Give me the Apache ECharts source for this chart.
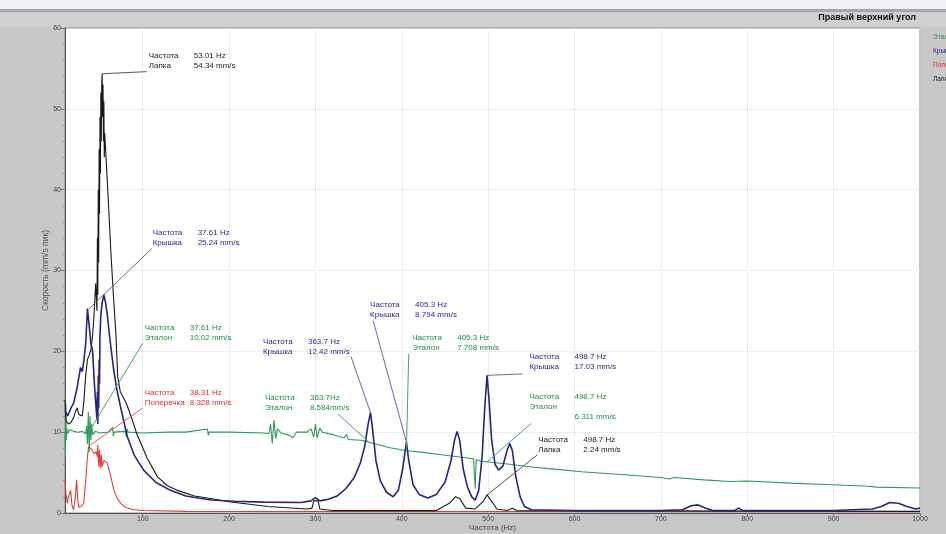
<!DOCTYPE html>
<html>
<head>
<meta charset="utf-8">
<script src="https://cdn.jsdelivr.net/npm/echarts@6/dist/echarts.min.js"></script>
<style>
  html, body { margin: 0; padding: 0; background: #c8c8c8; }
  #chart { width: 946px; height: 534px; }
</style>
</head>
<body>
<div id="chart"></div>
<script>
// Эталон (green)
const etFreq = [10, 10.5, 11, 11.5, 12, 13, 15, 20, 25, 30, 34, 35, 36, 37, 37.61, 38, 39, 40, 41, 42, 45, 50, 60, 65, 66, 67, 80, 81, 82, 83, 100, 130, 150, 175, 176, 177, 200, 240, 246, 248, 250, 252, 254, 256, 260, 270, 274, 278, 290, 295, 298, 300, 302, 305, 308, 320, 329, 333, 336, 338, 353, 368, 385, 405.3, 425, 446, 476, 483, 485, 486, 492, 520, 550, 580, 608, 650, 700, 710, 715, 750, 780, 800, 850, 898, 940, 950, 1000];
const etVal  = [10, 7, 13.5, 9, 10.5, 9.8, 10.3, 10.1, 10, 10.1, 9.8, 10.8, 8.5, 12.5, 10.02, 7.5, 12, 9, 11, 9.7, 10.1, 9.9, 10, 10.6, 9.5, 10, 10.1, 9.4, 10.4, 10, 9.9, 10, 10, 10.4, 9.6, 10, 10, 9.9, 9.8, 11, 8.6, 11.5, 9.2, 10.4, 9.9, 9.6, 9.3, 10, 10, 10.4, 9.4, 11, 9.3, 10.5, 10, 9.7, 9.4, 9.3, 9.7, 9.1, 9.0, 8.6, 8.1, 7.708, 7.5, 7.2, 6.8, 6.7, 3, 6.6, 6.4, 6.1, 5.7, 5.4, 5.1, 4.8, 4.4, 4.2, 4.4, 4.1, 3.9, 3.95, 3.7, 3.5, 3.3, 3.2, 3.1];

// Крышка (blue)
const krFreq = [10, 13, 17, 20, 24, 28, 30, 32, 34, 36, 37.61, 40, 42, 44, 46, 47, 47.5, 48, 48.5, 49, 49.5, 50, 50.5, 51.5, 53, 55, 57, 59, 62, 66, 70, 75, 82, 90, 101, 115, 132, 150, 179, 206, 240, 283, 295, 300, 305, 315, 325, 335, 345, 352, 357, 361, 363.7, 366, 370, 375, 382, 390, 396, 401, 405.3, 408, 413, 420, 430, 440, 450, 457, 461, 464, 467, 471, 476, 481, 485, 489, 493, 496, 498.7, 501, 504, 508, 512, 517, 522, 525, 528, 532, 537, 542, 550, 600, 700, 725, 735, 743, 752, 760, 785, 790, 795, 900, 945, 955, 965, 975, 985, 995, 1000];
const krVal  = [12.7, 12, 13, 13.6, 15.5, 18, 17.5, 19, 21, 25.3, 25.24, 21, 20, 16, 13, 11.5, 15, 11, 17, 13, 19, 16, 22, 24.5, 26, 27, 26, 24.5, 21.5, 18, 15.3, 12.8, 9.5, 7.2, 5.3, 3.8, 2.8, 2.1, 1.6, 1.45, 1.35, 1.3, 1.5, 1.9, 1.5, 1.7, 2.1, 3, 4.4, 6.2, 8.2, 11, 12.42, 10.5, 6.5, 4, 2.6, 2.0, 2.8, 5.5, 8.794, 6.5, 3.5, 2.3, 1.85, 2.3, 3.8, 6.5, 9, 10.1, 9, 5.5, 3.2, 2.0, 1.6, 2.8, 7, 13, 17.03, 14, 9, 6, 5.3, 5.8, 7.8, 8.6, 7.7, 4.5, 2, 0.8, 0.4, 0.3, 0.3, 0.4, 0.9, 1.0, 0.6, 0.3, 0.3, 0.6, 0.3, 0.3, 0.5, 0.8, 1.3, 1.2, 0.8, 0.5, 0.6];

// Поперечка (red)
const popFreq = [10, 11, 12.6, 14, 16.5, 18, 20, 22, 23.4, 25, 26, 29, 31.6, 34, 36, 37.4, 38.31, 40, 41.6, 44, 46, 47.4, 48, 49, 50, 51, 52, 53, 55, 59, 63, 66.7, 70, 74.5, 80, 89.6, 100, 150, 1000];
const popVal  = [4, 2.5, 1.2, 2, 2.8, 1, 0.4, 2, 4.1, 1.5, 0.7, 0.8, 1.2, 4, 7, 8.2, 8.328, 8, 7.8, 7.3, 7.6, 7.0, 8.4, 5.8, 7.8, 5.5, 7.2, 5.7, 6.5, 6.2, 4.5, 2.8, 1.9, 1.2, 0.7, 0.4, 0.3, 0.2, 0.15];

// Лапка (black)
const lapFreq = [10, 11, 14, 17, 20, 22, 24, 26, 28, 30, 32, 34, 36, 38, 40, 42, 43.5, 45.5, 47, 47.5, 48, 48.5, 49, 49.5, 50, 50.5, 51, 51.5, 52, 52.5, 53.01, 53.5, 54, 54.5, 55, 55.5, 56, 58, 60, 63, 66, 69, 71, 74, 78, 82, 88, 93, 98, 105, 117, 128, 140, 160, 175, 200, 245, 290, 296, 298, 303, 305, 320, 440, 455, 462, 467, 474, 485, 494, 498.7, 503, 510, 522, 528, 533, 1000];
const lapVal  = [14, 11.5, 11, 11.2, 11.8, 12.5, 13, 12.2, 12, 12, 14, 17, 19, 19.5, 20.2, 22, 24.3, 28.4, 25, 34, 27, 40, 31, 45, 37, 49, 42, 52, 46, 53, 54.34, 49, 53, 46, 51, 44, 47, 43, 39, 32.5, 27, 22, 16.9, 15, 14.2, 13.3, 11.5, 9.8, 8.6, 6.8, 4.5, 3.4, 2.8, 2.1, 1.85, 1.4, 0.8, 0.5, 0.6, 1.5, 1.5, 0.5, 0.3, 0.3, 1.2, 2, 1.8, 0.6, 0.5, 1.4, 2.24, 1.6, 0.5, 0.3, 0.6, 0.3, 0.2];

const seriesNames = ['Эталон', 'Крышка', 'Поперечка', 'Лапка'];
const xTicks = [100, 200, 300, 400, 500, 600, 700, 800, 900, 1000];

// cursor readouts: series, frequency text, value text
const cursorSeries = ['Лапка', 'Крышка', 'Эталон', 'Поперечка', 'Крышка', 'Эталон', 'Крышка', 'Эталон', 'Крышка', 'Эталон', 'Лапка'];
const cursorFreq   = [53.01, 37.61, 37.61, 38.31, 363.7, 363.7, 405.3, 405.3, 498.7, 498.7, 498.7];
const cursorVal    = [54.34, 25.24, 10.02, 8.328, 12.42, 8.584, 8.794, 7.708, 17.03, 6.311, 2.24];
const cursorFreqTxt = ['53.01 Hz', '37.61 Hz', '37.61 Hz', '38.31 Hz', '363.7 Hz', '363.7Hz', '405.3 Hz', '405.3 Hz', '498.7 Hz', '498.7 Hz', '498.7 Hz'];
const cursorValTxt  = ['54.34 mm/s', '25.24 mm/s', '10.02 mm/s', '8.328 mm/s', '12.42 mm/s', '8.584mm/s', '8.794 mm/s', '7.708 mm/s', '17.03 mm/s', '6.311 mm/s', '2.24 mm/s'];

// where each readout box sits (axis units): label anchor and leader end
const boxAt  = [[107, 55.9], [111.5, 34.0], [102.3, 22.3], [102.3, 14.3], [239.2, 20.6], [241.5, 13.6], [363.3, 25.1], [412, 21.0], [547.8, 18.7], [547.8, 13.2], [558, 8.4]];
const leadTo = [[104.6, 54.6], [110.4, 32.7], [100, 21.0], [100, 13.0], [341, 19.4], [326, 12.25], [366.8, 23.8], [408, 19.7], [539.7, 17.2], [550, 11.1], [557, 7.2]];

const colors = { 'Эталон': '#2f9a5a', 'Крышка': '#26267e', 'Поперечка': '#e8393a', 'Лапка': '#1a1a1a' };
const textColors = { 'Эталон': '#1f8f44', 'Крышка': '#2a2a8a', 'Поперечка': '#e42a2a', 'Лапка': '#1a1a1a' };
const leadColors = { 'Эталон': '#4aa070', 'Крышка': '#6a6aa8', 'Поперечка': '#ec5a5a', 'Лапка': '#555' };

const pairs = (fs, vs) => fs.map((f, i) => [f, vs[i]]);
const curves = {
  'Эталон': pairs(etFreq, etVal),
  'Крышка': pairs(krFreq, krVal),
  'Поперечка': pairs(popFreq, popVal),
  'Лапка': pairs(lapFreq, lapVal)
};

function readouts(name) {
  const lines = [], points = [];
  cursorSeries.forEach((s, i) => {
    if (s !== name) return;
    lines.push([{ coord: [cursorFreq[i], cursorVal[i]] }, { coord: leadTo[i] }]);
    const second = (i === 9)
      ? '{n|' + name + '}\n{n|}{v|' + cursorValTxt[i] + '}'
      : '{n|' + name + '}{v|' + cursorValTxt[i] + '}';
    points.push({
      coord: boxAt[i],
      label: {
        formatter: '{n|Частота}{v|' + cursorFreqTxt[i] + '}\n' + second
      }
    });
  });
  return { lines, points };
}

const chart = echarts.init(document.getElementById('chart'), null, { renderer: 'canvas' });

const series = seriesNames.map((name) => {
  const r = readouts(name);
  const txt = { fontSize: 8, color: textColors[name], fontFamily: 'Liberation Sans', lineHeight: 10 };
  return {
    name,
    type: 'line',
    data: curves[name],
    showSymbol: false,
    symbol: 'none',
    z: name === 'Крышка' ? 4 : 3,
    lineStyle: { color: colors[name], width: name === 'Крышка' ? 1.6 : 1.1 },
    itemStyle: { color: colors[name] },
    markLine: {
      silent: true,
      symbol: ['none', 'none'],
      label: { show: false },
      lineStyle: { color: leadColors[name], width: 1, type: 'solid' },
      data: r.lines
    },
    markPoint: {
      silent: true,
      symbol: 'circle',
      symbolSize: 0,
      label: Object.assign({
        show: true,
        position: 'right',
        distance: 0,
        rich: {
          n: Object.assign({ width: 45 }, txt),
          v: Object.assign({}, txt)
        }
      }, txt),
      data: r.points
    }
  };
});

const option = {
  animation: false,
  backgroundColor: '#c8c8c8',
  graphic: [
    { type: 'rect', shape: { x: 0, y: 0, width: 946, height: 9 }, style: { fill: '#f2f2f6' }, silent: true },
    { type: 'rect', shape: { x: 0, y: 9, width: 946, height: 3 }, style: { fill: '#a2a6b4' }, silent: true },
    { type: 'rect', shape: { x: 0, y: 12, width: 946, height: 15 }, style: { fill: '#d0d0d0' }, silent: true },
    {
      type: 'text', right: 30, top: 13,
      style: { text: 'Правый верхний угол', font: 'bold 9px "Liberation Sans"', fill: '#111' }
    }
  ],
  legend: {
    orient: 'vertical',
    left: 927,
    top: 29,
    itemWidth: 0,
    itemHeight: 0,
    itemGap: 7,
    selectedMode: false,
    textStyle: { fontSize: 6.5, fontFamily: 'Liberation Sans', padding: [0, 0, 0, -4] },
    data: seriesNames.map((n) => ({ name: n, icon: 'rect', textStyle: { color: textColors[n] } }))
  },
  grid: {
    left: 65, right: 26, top: 28, bottom: 21,
    outerBoundsMode: 'none',
    containLabel: false,
    show: true, backgroundColor: '#ffffff', borderWidth: 1, borderColor: '#8a8a8a'
  },
  xAxis: {
    type: 'value',
    min: 10,
    max: 1000,
    name: 'Частота (Hz)',
    nameLocation: 'middle',
    nameGap: 11,
    nameMoveOverlap: false,
    nameTextStyle: { fontSize: 8, color: '#444', fontFamily: 'Liberation Sans' },
    axisLine: { show: true, lineStyle: { color: '#555' } },
    axisTick: { show: true, length: 3, customValues: xTicks, lineStyle: { color: '#777' } },
    axisLabel: { fontSize: 7, color: '#444', margin: 3, customValues: xTicks, fontFamily: 'Liberation Sans', formatter: (v) => String(v) },
    splitLine: { show: true, lineStyle: { color: '#dcdcdc', type: 'dotted', width: 1 } }
  },
  yAxis: {
    type: 'value',
    min: 0,
    max: 60,
    interval: 10,
    name: 'Скорость (mm/s пик)',
    nameLocation: 'middle',
    nameGap: 15,
    nameMoveOverlap: false,
    nameTextStyle: { fontSize: 8.5, color: '#555', fontFamily: 'Liberation Sans' },
    axisLine: { show: true, lineStyle: { color: '#555' } },
    axisTick: { show: true, length: 4, lineStyle: { color: '#777' } },
    minorTick: { show: true, splitNumber: 5, length: 2, lineStyle: { color: '#888' } },
    axisLabel: { fontSize: 7, color: '#444', margin: 4, fontFamily: 'Liberation Sans' },
    splitLine: { show: true, lineStyle: { color: '#dcdcdc', type: 'dotted', width: 1 } }
  },
  series
};

chart.setOption(option);
</script>
</body>
</html>
